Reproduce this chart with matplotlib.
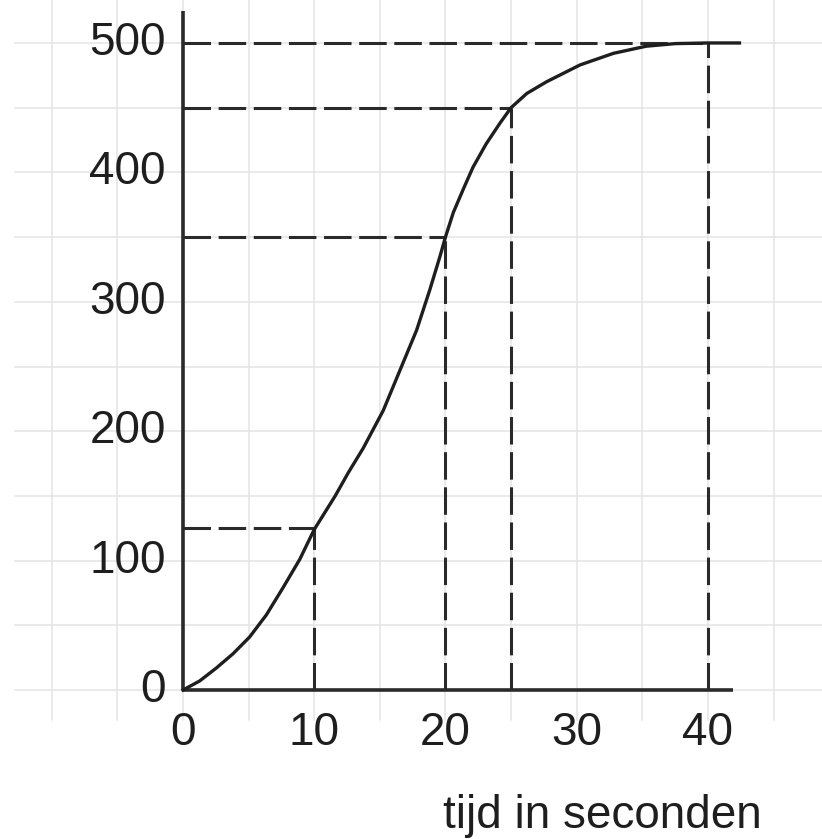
import numpy as np
import matplotlib
matplotlib.use("Agg")
import matplotlib.pyplot as plt

# curve (tijd in s, afstand)
tijd = [0, 1.27, 2.54, 3.81, 5.08, 6.35, 7.62, 8.9, 10, 11.6, 12.6, 13.74,
        15.26, 16.53, 17.8, 18.8, 19.58, 20, 20.6, 21.4, 22.1, 23.1, 24.15,
        25, 26.2, 27.7, 30.25, 32.8, 35.3, 37.5, 40, 42.4]
afstand = [0, 7, 17, 28, 41, 58, 79, 101, 124, 150, 168, 187,
           216, 247, 278, 309, 335, 350, 369, 388, 404, 422, 438,
           450, 461, 470, 483, 492, 497.5, 499.5, 500, 500]

# dashed helper lines
ref_t = [10, 20, 25, 40]
ref_s = [125, 350, 450, 500]

x_ticks = [0, 10, 20, 30, 40]
y_ticks = [0, 100, 200, 300, 400, 500]
x_label = "tijd in seconden"

plt.rcParams['font.family'] = ['Liberation Sans', 'DejaVu Sans']

fig = plt.figure(figsize=(8.22, 8.39), dpi=100)
ax = fig.add_axes([0, 0, 1, 1])
ax.set_xlim(-13.94, 48.69)
ax.set_ylim(-115.1, 533.2)
ax.axis('off')

# light paper grid
grid_c = '#e4e4e4'
for gx in np.arange(-10, 50, 5):
    ax.plot([gx, gx], [-23, 540], color=grid_c, lw=1.1, zorder=0)
for gy in np.arange(0, 550, 50):
    ax.plot([-12.8, 50], [gy, gy], color=grid_c, lw=1.1, zorder=0)

ink = '#2a2a2a'

# axes
ax.plot([0, 0], [0, 525], color=ink, lw=2.6, solid_capstyle='butt')
ax.plot([0, 41.9], [0, 0], color=ink, lw=2.6, solid_capstyle='butt')

# dashed lines
for t, s in zip(ref_t, ref_s):
    ax.plot([0, t], [s, s], color=ink, lw=2.2, dashes=(9, 2.5))
    ax.plot([t, t], [0, s], color=ink, lw=2.2, dashes=(9, 2.5))

# curve
ax.plot(tijd, afstand, color='#1e1e1e', lw=2.4, solid_joinstyle='round')

# tick labels
for v in y_ticks:
    ax.text(-1.3, v, str(v), ha='right', va='center', fontsize=33, color='#1e1e1e')
for v in x_ticks:
    ax.text(v, -33, str(v), ha='center', va='center', fontsize=33, color='#1e1e1e')

ax.text(602 / 13.125 - 13.94, -97, x_label, ha='center', va='center', fontsize=33, color='#1e1e1e')

fig.savefig('out.png', dpi=100)
